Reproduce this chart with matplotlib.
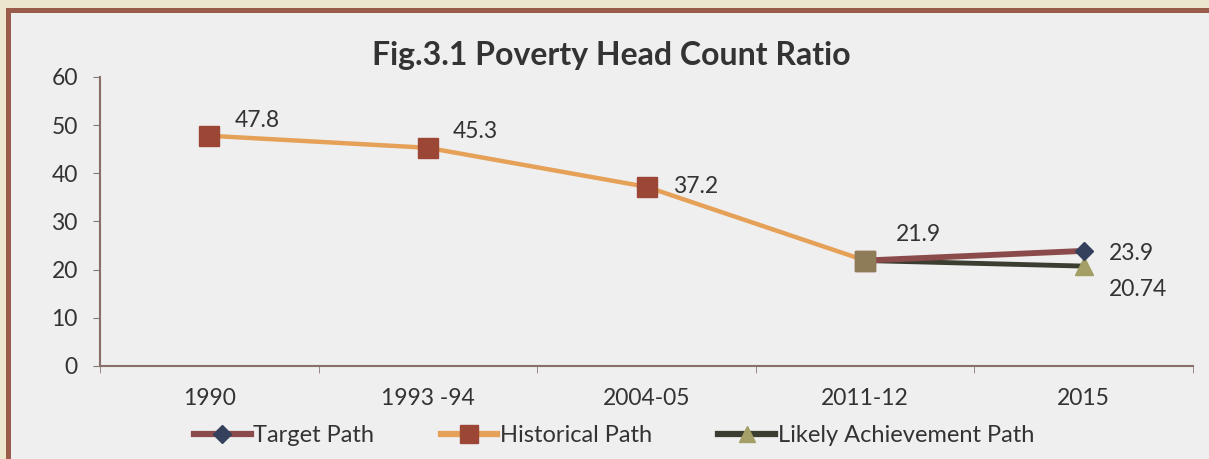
import matplotlib.pyplot as plt
from matplotlib.patches import Rectangle
from matplotlib.lines import Line2D

plt.rcParams['font.family'] = ['Lato', 'DejaVu Sans']

# data
categories = ['1990', '1993 -94', '2004-05', '2011-12', '2015']
historical = [47.8, 45.3, 37.2, 21.9, None]
target = [None, None, None, 21.9, 23.9]
likely = [None, None, None, 21.9, 20.74]
hist_labels = ['47.8', '45.3', '37.2', '21.9']
target_label = '23.9'
likely_label = '20.74'

W, H = 1209, 459
fig = plt.figure(figsize=(W / 100, H / 100), dpi=100)
fig.patch.set_facecolor('#EDE6CE')
# inner panel with brown frame
fig.patches.append(Rectangle((7.5 / W, -0.05), 1.05, 1.05 - 10.5 / H,
                             transform=fig.transFigure, facecolor='#EFEFF0',
                             edgecolor='#9A5B4B', linewidth=3.6, zorder=-10))

ax = fig.add_axes([100 / W, (H - 366) / H, (1193 - 100) / W, (366 - 77) / H])
ax.set_facecolor('none')

x = list(range(len(categories)))
hx = [i for i, v in enumerate(historical) if v is not None]
hy = [v for v in historical if v is not None]
tx = [i for i, v in enumerate(target) if v is not None]
ty = [v for v in target if v is not None]
lx = [i for i, v in enumerate(likely) if v is not None]
ly = [v for v in likely if v is not None]

ax.plot(hx, hy, color='#E6A158', lw=3.2, marker='s', ms=14, mfc='#9C4636', mec='#9C4636', zorder=3)
ax.plot(lx, ly, color='#3B3D30', lw=3.5, marker='^', ms=13, mfc='#A39F66', mec='#A39F66', zorder=4)
ax.plot(tx, ty, color='#8C4B4B', lw=4.2, zorder=5)
ax.plot(tx[1:], ty[1:], ls='none', marker='D', ms=9, mfc='#34405C', mec='#34405C', zorder=6)
ax.plot(hx[-1:], hy[-1:], ls='none', marker='s', ms=14, mfc='#8E7B58', mec='#8E7B58', zorder=7)

# label offsets in points (dx, dy)
hist_offsets = [(18, 11), (18, 12), (19, 0), (22, 19)]
for i, (xi, yi) in enumerate(zip(hx, hy)):
    ax.annotate(hist_labels[i], (xi, yi), xytext=hist_offsets[i], textcoords='offset points',
                fontsize=16.5, color='#333333', ha='left', va='center')
ax.annotate(target_label, (tx[-1], ty[-1]), xytext=(18, -2), textcoords='offset points',
            fontsize=16.5, color='#333333', ha='left', va='center')
ax.annotate(likely_label, (lx[-1], ly[-1]), xytext=(18, -17), textcoords='offset points',
            fontsize=16.5, color='#333333', ha='left', va='center')

ax.set_xlim(-0.5, 4.5)
ax.set_ylim(0, 60)
ax.set_yticks(range(0, 61, 10))
ax.set_xticks(x)
ax.set_xticklabels(categories)
ax.set_xticks([i + 0.5 for i in range(-1, 5)], minor=True)
ax.tick_params(axis='x', which='major', length=0, pad=16, labelsize=16.5, labelcolor='#333333')
ax.tick_params(axis='x', which='minor', length=5, color='#8A7A76', direction='out')
ax.tick_params(axis='y', length=5, color='#8A7A76', pad=11, labelsize=16.5, labelcolor='#333333')
for s in ['top', 'right']:
    ax.spines[s].set_visible(False)
for s in ['left', 'bottom']:
    ax.spines[s].set_color('#8A6E6A')
    ax.spines[s].set_linewidth(1.5)

fig.text(611 / W, 1 - 65 / H, 'Fig.3.1 Poverty Head Count Ratio', ha='center', va='baseline',
         fontsize=23, fontweight='bold', color='#333333')

handles = [
    Line2D([], [], color='#8C4B4B', lw=4.5, marker='D', ms=9, mfc='#34405C', mec='#34405C'),
    Line2D([], [], color='#E6A158', lw=4.5, marker='s', ms=13, mfc='#9C4636', mec='#9C4636'),
    Line2D([], [], color='#3B3D30', lw=4.5, marker='^', ms=12, mfc='#A39F66', mec='#A39F66'),
]
fig.legend(handles, ['Target Path', 'Historical Path', 'Likely Achievement Path'],
           loc='center', bbox_to_anchor=(614 / W, 1 - 436 / H), ncol=3, frameon=False,
           fontsize=17, handlelength=2.4, handletextpad=0.12, columnspacing=2.8,
           borderpad=0, labelcolor='#333333')

fig.savefig('out.png', dpi=100, facecolor=fig.get_facecolor())
